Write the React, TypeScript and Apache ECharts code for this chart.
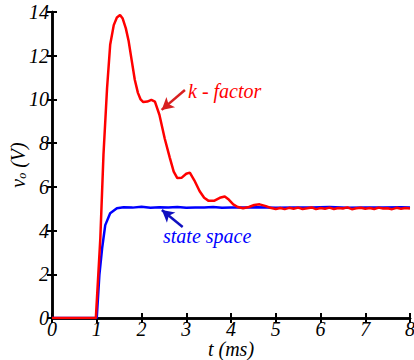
import React, { useEffect, useRef } from "react";
import * as echarts from "echarts";

const X_TICKS = [0, 1, 2, 3, 4, 5, 6, 7, 8];
const Y_TICKS = [0, 2, 4, 6, 8, 10, 12, 14];

// k-factor response (red)
const RED_T = [0, 0.98, 1.08, 1.15, 1.23, 1.3, 1.38, 1.45, 1.52, 1.58, 1.65, 1.71, 1.78, 1.85, 1.92, 1.98, 2.04, 2.13, 2.22, 2.3, 2.4, 2.52, 2.63, 2.72, 2.8, 2.9, 3.0, 3.08, 3.18, 3.3, 3.4, 3.5, 3.62, 3.75, 3.86, 3.95, 4.05, 4.15, 4.27, 4.4, 4.52, 4.64, 4.78, 4.9, 5.0, 5.1, 5.2, 5.3, 5.4, 5.5, 5.6, 5.7, 5.8, 5.9, 6.0, 6.1, 6.2, 6.3, 6.4, 6.5, 6.6, 6.7, 6.8, 6.9, 7.0, 7.1, 7.2, 7.3, 7.4, 7.5, 7.6, 7.7, 7.8, 7.9, 8.0];
const RED_V = [0, 0, 3.65, 7.46, 10.5, 12.5, 13.4, 13.75, 13.86, 13.7, 13.25, 12.7, 11.8, 10.9, 10.3, 10.0, 9.88, 9.9, 9.98, 9.9, 9.3, 8.2, 7.35, 6.7, 6.4, 6.42, 6.6, 6.65, 6.3, 5.8, 5.5, 5.36, 5.36, 5.5, 5.56, 5.42, 5.2, 5.08, 5.02, 5.08, 5.17, 5.2, 5.12, 5.03, 4.99, 5.03, 4.98, 5.04, 5.0, 5.05, 4.99, 5.02, 5.06, 4.98, 5.03, 5.0, 5.05, 4.99, 5.03, 5.01, 5.06, 4.98, 5.02, 5.04, 5.0, 5.03, 4.99, 5.05, 5.01, 5.02, 4.98, 5.04, 5.0, 5.03, 5.01];

// state space response (blue)
const BLUE_T = [0, 1.0, 1.06, 1.12, 1.19, 1.3, 1.45, 1.6, 1.8, 2.0, 2.2, 2.4, 2.6, 2.8, 3.0, 3.2, 3.4, 3.6, 3.8, 4.0, 4.3, 4.6, 5.0, 5.4, 5.8, 6.2, 6.6, 7.0, 7.4, 7.8, 8.0];
const BLUE_V = [0, 0, 2.0, 3.19, 4.25, 4.79, 5.02, 5.07, 5.05, 5.09, 5.04, 5.07, 5.05, 5.08, 5.04, 5.06, 5.05, 5.08, 5.04, 5.06, 5.05, 5.07, 5.04, 5.06, 5.05, 5.08, 5.04, 5.06, 5.05, 5.07, 5.05];

const FONT = "Liberation Serif";

export default function App() {
  const ref = useRef<HTMLDivElement>(null);
  useEffect(() => {
    document.body.style.margin = "0";
    const chart = echarts.init(ref.current!, null, { renderer: "svg" });
    const red = RED_T.map((t, i) => [t, RED_V[i]]);
    const blue = BLUE_T.map((t, i) => [t, BLUE_V[i]]);
    const axisLine = { show: true, lineStyle: { color: "#000", width: 2.5 } };
    const tick = { show: true, inside: true, length: 5, lineStyle: { color: "#000", width: 2 } };
    const label = { fontFamily: FONT, fontStyle: "italic", fontSize: 20, color: "#000", lineHeight: 18 };
    chart.setOption({
      animation: false,
      textStyle: { fontFamily: FONT },
      grid: { left: 52, top: 12, right: 4, bottom: 42, containLabel: false, outerBoundsMode: "none" },
      xAxis: [
        {
          type: "value", min: X_TICKS[0], max: X_TICKS[X_TICKS.length - 1], interval: 1, position: "bottom",
          axisLine, axisTick: tick, splitLine: { show: false },
          axisLabel: { ...label, margin: 2, showMaxLabel: true },
          name: "t (ms)", nameLocation: "middle", nameGap: 22, nameMoveOverlap: false,
          nameTextStyle: { ...label },
        },
        {
          type: "value", min: X_TICKS[0], max: X_TICKS[X_TICKS.length - 1], interval: 1, position: "top",
          axisLine, axisTick: tick, splitLine: { show: false }, axisLabel: { show: false },
        },
      ],
      yAxis: [
        {
          type: "value", min: Y_TICKS[0], max: Y_TICKS[Y_TICKS.length - 1], interval: 2, position: "left",
          axisLine, axisTick: tick, splitLine: { show: false },
          axisLabel: { ...label, margin: 3 },
          name: "{i|v}{s|o}{i| (V)}", nameLocation: "middle", nameGap: 24, nameRotate: 90, nameMoveOverlap: false,
          nameTextStyle: {
            fontFamily: FONT, fontStyle: "italic", fontSize: 20,
            rich: {
              i: { fontFamily: FONT, fontStyle: "italic", fontSize: 20, color: "#000" },
              s: { fontFamily: FONT, fontStyle: "italic", fontSize: 12, color: "#000", padding: [8, 0, 0, 0] },
            },
          },
        },
        {
          type: "value", min: Y_TICKS[0], max: Y_TICKS[Y_TICKS.length - 1], interval: 2, position: "right",
          axisLine, axisTick: tick, splitLine: { show: false }, axisLabel: { show: false },
        },
      ],
      series: [
        {
          type: "line", data: blue, showSymbol: false, xAxisIndex: 0, yAxisIndex: 0,
          lineStyle: { color: "#0000ff", width: 2.5 }, itemStyle: { color: "#0000ff" },
          markLine: {
            silent: true, symbol: ["none", "arrow"], symbolSize: [10, 12],
            lineStyle: { color: "#1010c0", width: 2.5, type: "solid" }, label: { show: false },
            data: [[{ coord: [2.92, 4.16] }, { coord: [2.455, 4.94] }]],
          },
        },
        {
          type: "line", data: red, showSymbol: false, xAxisIndex: 0, yAxisIndex: 0,
          lineStyle: { color: "#ff0000", width: 2.5 }, itemStyle: { color: "#ff0000" },
          markLine: {
            silent: true, symbol: ["none", "arrow"], symbolSize: [10, 12],
            lineStyle: { color: "#d82020", width: 2.5, type: "solid" }, label: { show: false },
            data: [[{ coord: [2.97, 10.43] }, { coord: [2.45, 9.52] }]],
          },
        },
      ],
      graphic: [
        { type: "text", left: 188, top: 81, style: { text: "k - factor", fill: "#ff0000", fontFamily: FONT, fontStyle: "italic", fontSize: 20 } },
        { type: "text", left: 163, top: 226, style: { text: "state space", fill: "#0000ff", fontFamily: FONT, fontStyle: "italic", fontSize: 20 } },
      ],
    });
    return () => chart.dispose();
  }, []);
  return <div ref={ref} style={{ width: 414, height: 360 }} />;
}
